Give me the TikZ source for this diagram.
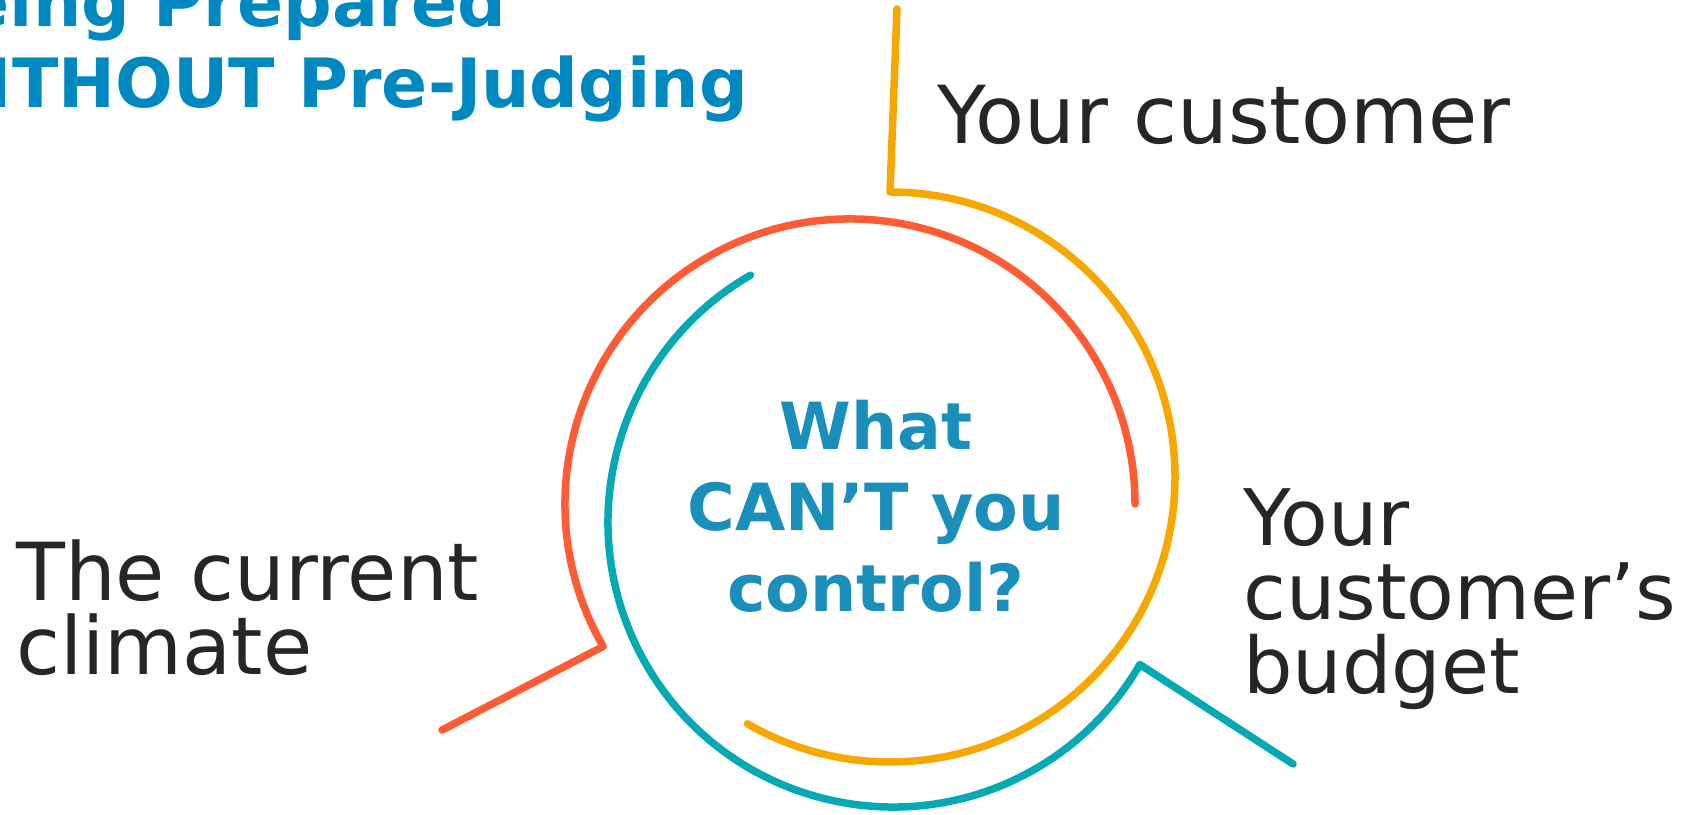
\documentclass[tikz,border=0pt]{standalone}
\usepackage{fontspec}
\setmainfont{DejaVu Sans}
\usetikzlibrary{calc}

\definecolor{ringred}{HTML}{FF5B35}
\definecolor{ringamber}{HTML}{F7A800}
\definecolor{ringteal}{HTML}{05A9B4}
\definecolor{titleblue}{HTML}{0089C0}
\definecolor{hubblue}{HTML}{1A8FBC}
\definecolor{darktext}{HTML}{262626}

\begin{document}
\begin{tikzpicture}[x=1pt,y=1pt,
    ring/.style={line width=7.5pt,line cap=round,line join=round},
    bigtext/.style={anchor=base west,inner sep=0pt,text=darktext,font=\fontsize{80}{80}\selectfont},
    hubtext/.style={anchor=base,inner sep=0pt,text=hubblue,font=\bfseries\fontsize{65}{65}\selectfont},
    titletext/.style={inner sep=0pt,text=titleblue,font=\bfseries\fontsize{68}{68}\selectfont}]
  \useasboundingbox (0,0) rectangle (1699,814);
  \clip (0,0) rectangle (1699,814);

  \coordinate (redc) at (850,310);
  \coordinate (amberc) at (890,337);
  \coordinate (tealc) at (893,292);
  \coordinate (redtail) at (442,84);
  \coordinate (ambertail) at (897,805);
  \coordinate (tealtail) at (1293,50);

  \draw[ring,ringred] (redtail) -- ($(redc)+(210:285pt)$) arc (210:0:285pt);
  \draw[ring,ringamber] (ambertail) -- ($(amberc)+(90:285pt)$) arc (90:-120:285pt);
  \draw[ring,ringteal] ($(tealc)+(120:285pt)$) arc (120:330:285pt) -- (tealtail);

  \node[titletext,anchor=base east] (title2) at (748,706) {WITHOUT Pre-Judging};
  \node[titletext,anchor=base west] (title1) at ([yshift=81pt]title2.base west) {Being Prepared};

  \node[bigtext] (cust) at (937,670) {Your customer};

  \node[bigtext,font=\fontsize{78}{78}\selectfont] (budget1) at (1243,268) {Your};
  \node[bigtext,font=\fontsize{78}{78}\selectfont] (budget2) at ([yshift=-74pt]budget1.base west) {customer’s};
  \node[bigtext,font=\fontsize{78}{78}\selectfont] (budget3) at ([yshift=-73pt]budget2.base west) {budget};

  \node[bigtext] (climate1) at (16,213) {The current};
  \node[bigtext] (climate2) at ([yshift=-73pt]climate1.base west) {climate};

  \node[hubtext] (what) at (876,364) {What};
  \node[hubtext] (cant) at ([yshift=-81pt]what.base) {CAN’T you};
  \node[hubtext] (control) at ([yshift=-81pt]cant.base) {control?};
\end{tikzpicture}
\end{document}
